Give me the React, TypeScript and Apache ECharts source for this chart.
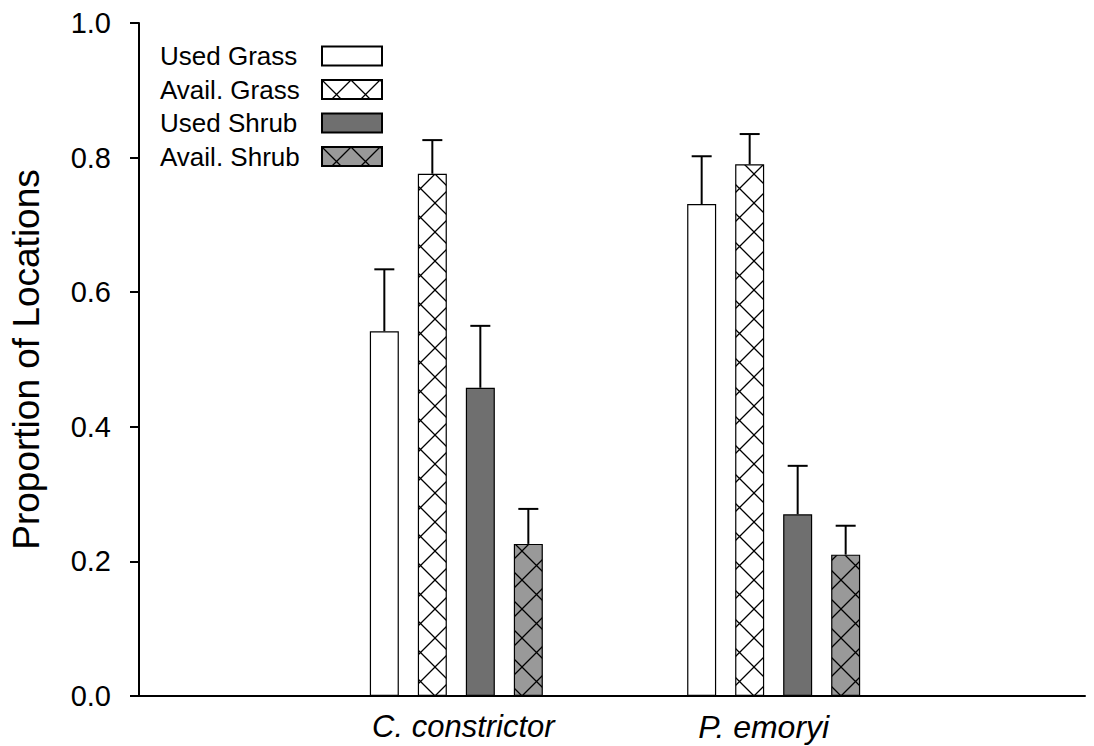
import React, { useEffect, useRef } from 'react';
import * as echarts from 'echarts';

const categories = ['', 'C. constrictor', 'P. emoryi', ''];
const seriesNames = ['Used Grass', 'Avail. Grass', 'Used Shrub', 'Avail. Shrub'];
const usedGrass: (number | string)[] = ['-', 0.542, 0.731, '-'];
const availGrass: (number | string)[] = ['-', 0.776, 0.790, '-'];
const usedShrub: (number | string)[] = ['-', 0.458, 0.270, '-'];
const availShrub: (number | string)[] = ['-', 0.226, 0.210, '-'];
const usedGrassErr = [0, 0.092, 0.071, 0];
const availGrassErr = [0, 0.050, 0.045, 0];
const usedShrubErr = [0, 0.092, 0.072, 0];
const availShrubErr = [0, 0.052, 0.043, 0];
const yTickLabels = ['0.0', '0.2', '0.4', '0.6', '0.8', '1.0'];

const FONT = '"Liberation Sans", Arial, Helvetica, sans-serif';
const BAR_W = 29;
const BAR_PITCH = 48;

function makeHatch(bg: string): HTMLCanvasElement {
  const s = 29;
  const c = document.createElement('canvas');
  c.width = s;
  c.height = s;
  const ctx = c.getContext('2d')!;
  ctx.fillStyle = bg;
  ctx.fillRect(0, 0, s, s);
  ctx.strokeStyle = '#000';
  ctx.lineWidth = 1.3;
  ctx.beginPath();
  ctx.moveTo(-1, -1);
  ctx.lineTo(s + 1, s + 1);
  ctx.moveTo(s + 1, -1);
  ctx.lineTo(-1, s + 1);
  ctx.stroke();
  return c;
}

export default function App() {
  const ref = useRef<HTMLDivElement>(null);
  useEffect(() => {
    if (!ref.current) return;
    const chart = echarts.init(ref.current, undefined, { renderer: 'svg' });
    const grassHatch = { image: makeHatch('#ffffff'), repeat: 'repeat', x: 13.5, y: 0 };
    const shrubHatch = { image: makeHatch('#999999'), repeat: 'repeat', x: 22.5, y: 0 };
    const values = [usedGrass, availGrass, usedShrub, availShrub];
    const errs = [usedGrassErr, availGrassErr, usedShrubErr, availShrubErr];
    const fills: any[] = ['#ffffff', grassHatch, '#6f6f6f', shrubHatch];
    const offsets = [-1.5, -0.5, 0.5, 1.5].map((k) => k * BAR_PITCH);

    const errData: any[] = [];
    values.forEach((arr, s) => {
      arr.forEach((v, c) => {
        if (typeof v === 'number') errData.push([c, v, errs[s][c], s]);
      });
    });

    const barSeries = seriesNames.map((name, s) => ({
      name,
      type: 'bar',
      xAxisIndex: 0,
      yAxisIndex: 0,
      data: values[s],
      barWidth: BAR_W,
      barGap: ((BAR_PITCH - BAR_W) / BAR_W) * 100 + '%',
      itemStyle: { color: fills[s], borderColor: '#000', borderWidth: 1.2 },
      z: 2,
    }));

    chart.setOption({
      animation: false,
      backgroundColor: '#ffffff',
      grid: [
        { left: 138, top: 23, width: 960, bottom: 50, containLabel: false },
        { left: 138, top: 23, right: 9, bottom: 50, containLabel: false },
      ],
      legend: {
        orient: 'vertical',
        left: 155,
        top: 38,
        align: 'right',
        icon: 'rect',
        itemWidth: 60,
        itemHeight: 19,
        itemGap: 7.5,
        padding: 5,
        data: seriesNames,
        formatter: '{a|{name}}',
        textStyle: {
          color: '#000',
          fontFamily: FONT,
          fontSize: 26,
          lineHeight: 26,
          rich: {
            a: { width: 157, align: 'left', fontSize: 26, lineHeight: 26, fontFamily: FONT, color: '#000' },
          },
        },
      },
      xAxis: [
        {
          type: 'category',
          gridIndex: 0,
          data: categories,
          boundaryGap: false,
          axisLine: { show: false },
          axisTick: { show: false },
          splitLine: { show: false },
          axisLabel: {
            interval: 0,
            margin: 15,
            formatter: (v: string) => (v === 'C. constrictor' ? '{c|' + v + '}' : v === 'P. emoryi' ? '{p|' + v + '}' : ''),
            rich: {
              c: { fontSize: 31, fontStyle: 'italic', fontFamily: FONT, color: '#000', padding: [0, 0, 0, 14] },
              p: { fontSize: 32, fontStyle: 'italic', fontFamily: FONT, color: '#000', padding: [0, 20, 0, 0] },
            },
          },
        },
        {
          type: 'value',
          gridIndex: 1,
          min: 0,
          max: 1,
          axisLine: { show: true, lineStyle: { color: '#000', width: 2 } },
          axisTick: { show: false },
          axisLabel: { show: false },
          splitLine: { show: false },
        },
      ],
      yAxis: [
        {
          type: 'value',
          gridIndex: 0,
          min: 0,
          max: 1,
          interval: 0.2,
          name: 'Proportion of Locations',
          nameLocation: 'middle',
          nameGap: 94,
          nameTextStyle: { fontSize: 37, fontFamily: FONT, color: '#000' },
          axisLine: { show: true, lineStyle: { color: '#000', width: 2 } },
          axisTick: { show: true, length: 9, lineStyle: { color: '#000', width: 2 } },
          axisLabel: {
            margin: 28,
            fontSize: 29,
            fontFamily: FONT,
            color: '#000',
            formatter: (v: number) => yTickLabels[Math.round(v / 0.2)] ?? v.toFixed(1),
          },
          splitLine: { show: false },
        },
        {
          type: 'value',
          gridIndex: 1,
          min: 0,
          max: 1,
          show: false,
        },
      ],
      series: [
        ...barSeries,
        {
          type: 'custom',
          name: 'errors',
          xAxisIndex: 0,
          yAxisIndex: 0,
          z: 3,
          encode: { x: 0, y: 1 },
          data: errData,
          renderItem: (params: any, api: any) => {
            const c = api.value(0);
            const m = api.value(1);
            const e = api.value(2);
            const s = api.value(3);
            const p0 = api.coord([c, m]);
            const p1 = api.coord([c, m + e]);
            const x = p0[0] + offsets[s];
            const style = { stroke: '#000', lineWidth: 2 };
            return {
              type: 'group',
              children: [
                { type: 'line', shape: { x1: x, y1: p0[1], x2: x, y2: p1[1] }, style },
                { type: 'line', shape: { x1: x - 10, y1: p1[1], x2: x + 10, y2: p1[1] }, style },
              ],
            };
          },
        },
      ],
    });
    return () => chart.dispose();
  }, []);
  return <div ref={ref} style={{ position: 'absolute', left: 0, top: 0, width: 1094, height: 746 }} />;
}
